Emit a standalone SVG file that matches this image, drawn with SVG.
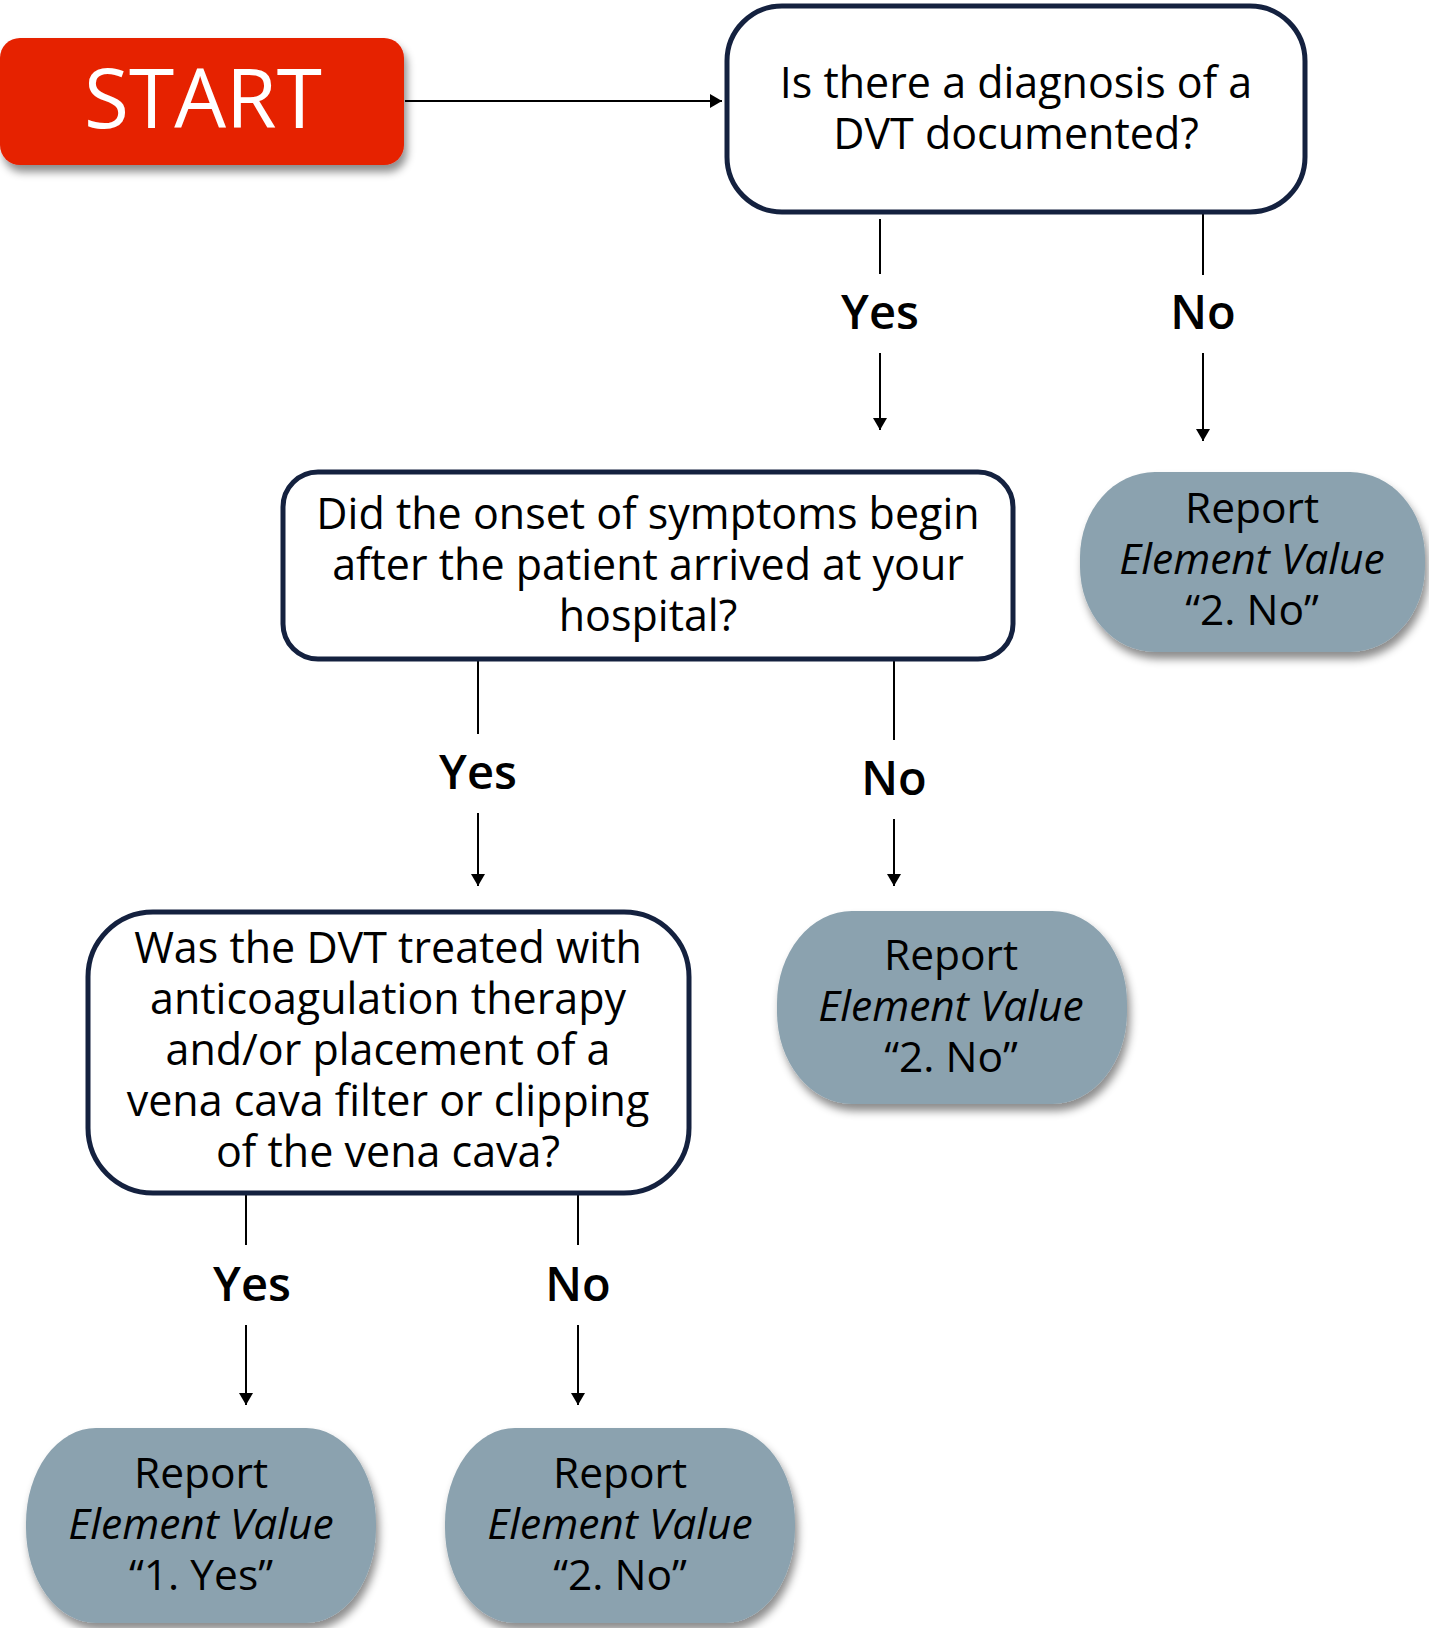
<svg xmlns="http://www.w3.org/2000/svg" width="1429" height="1628" viewBox="0 0 1429 1628">
  <defs>
    <filter id="shadow" x="-10%" y="-10%" width="125%" height="130%">
      <feDropShadow dx="3" dy="7" stdDeviation="4" flood-color="#000" flood-opacity="0.45"/>
    </filter>
    <marker id="arrow" viewBox="0 0 12 14" refX="12" refY="7" markerWidth="12" markerHeight="14" markerUnits="userSpaceOnUse" orient="auto">
      <path d="M0,0 L12,7 L0,14 Z" fill="#000"/>
    </marker>
    <style>
      .q { fill: #fff; stroke: #14213f; stroke-width: 5; }
      .rep { fill: #8ba2af; filter: url(#shadow); }
      .t { font-family: "Open Sans", "Noto Sans", "Liberation Sans", sans-serif; font-size: 43px; fill: #000; text-anchor: middle; }
      .r { font-size: 42.5px; }
      .it { font-style: italic; }
      .lbl { font-family: "Open Sans", "Noto Sans", "Liberation Sans", sans-serif; font-size: 47px; font-weight: 600; fill: #000; text-anchor: middle; }
      .ln { stroke: #000; stroke-width: 2; fill: none; }
      .ar { stroke: #000; stroke-width: 2; fill: none; marker-end: url(#arrow); }
    </style>
  </defs>
  <rect width="1429" height="1628" fill="#fff"/>

  <!-- connectors and branch labels -->
  <g id="connectors">
    <line class="ar" x1="405" y1="101" x2="722" y2="101"/>

    <line class="ln" x1="880" y1="219" x2="880" y2="274"/>
    <text class="lbl" x="880" y="329">Yes</text>
    <line class="ar" x1="880" y1="353" x2="880" y2="430"/>

    <line class="ln" x1="1203" y1="214" x2="1203" y2="275"/>
    <text class="lbl" x="1203" y="329">No</text>
    <line class="ar" x1="1203" y1="353" x2="1203" y2="441"/>

    <line class="ln" x1="478" y1="660" x2="478" y2="734"/>
    <text class="lbl" x="478" y="789">Yes</text>
    <line class="ar" x1="478" y1="813" x2="478" y2="886"/>

    <line class="ln" x1="894" y1="660" x2="894" y2="740"/>
    <text class="lbl" x="894" y="795">No</text>
    <line class="ar" x1="894" y1="819" x2="894" y2="886"/>

    <line class="ln" x1="246" y1="1194" x2="246" y2="1245"/>
    <text class="lbl" x="252" y="1301">Yes</text>
    <line class="ar" x1="246" y1="1325" x2="246" y2="1405"/>

    <line class="ln" x1="578" y1="1194" x2="578" y2="1245"/>
    <text class="lbl" x="578" y="1301">No</text>
    <line class="ar" x1="578" y1="1325" x2="578" y2="1405"/>
  </g>

  <!-- start -->
  <g id="start">
    <rect x="0" y="38" width="404" height="127" rx="20" fill="#e62000" filter="url(#shadow)"/>
    <text x="203" y="128" font-family="'Open Sans', 'Noto Sans', 'Liberation Sans', sans-serif" font-size="82" fill="#fff" text-anchor="middle">START</text>
  </g>

  <!-- decision: DVT documented -->
  <g id="q-dvt">
    <rect class="q" x="727" y="6" width="578" height="206" rx="55"/>
    <text class="t" x="1016" y="98">Is there a diagnosis of a</text>
    <text class="t" x="1016" y="149">DVT documented?</text>
  </g>

  <!-- decision: onset after arrival -->
  <g id="q-onset">
    <rect class="q" x="283" y="472" width="730" height="187" rx="35"/>
    <text class="t" x="648" y="529">Did the onset of symptoms begin</text>
    <text class="t" x="648" y="580">after the patient arrived at your</text>
    <text class="t" x="648" y="631">hospital?</text>
  </g>

  <!-- decision: treatment -->
  <g id="q-treated">
    <rect class="q" x="88" y="912" width="601" height="281" rx="65"/>
    <text class="t" x="388" y="963">Was the DVT treated with</text>
    <text class="t" x="388" y="1014">anticoagulation therapy</text>
    <text class="t" x="388" y="1065">and/or placement of a</text>
    <text class="t" x="388" y="1116">vena cava filter or clipping</text>
    <text class="t" x="388" y="1167">of the vena cava?</text>
  </g>

  <!-- outcome: top right -->
  <g id="r-no-1">
    <rect class="rep" x="1080" y="472" width="345" height="180" rx="75" ry="85"/>
    <text class="t r" x="1252" y="523">Report</text>
    <text class="t r it" x="1252" y="574">Element Value</text>
    <text class="t r" x="1252" y="625">“2. No”</text>
  </g>

  <!-- outcome: middle -->
  <g id="r-no-2">
    <rect class="rep" x="777" y="911" width="350" height="193" rx="75" ry="92"/>
    <text class="t r" x="951" y="970">Report</text>
    <text class="t r it" x="951" y="1021">Element Value</text>
    <text class="t r" x="951" y="1072">“2. No”</text>
  </g>

  <!-- outcome: bottom left -->
  <g id="r-yes">
    <rect class="rep" x="26" y="1428" width="350" height="195" rx="70" ry="95"/>
    <text class="t r" x="201" y="1488">Report</text>
    <text class="t r it" x="201" y="1539">Element Value</text>
    <text class="t r" x="201" y="1590">“1. Yes”</text>
  </g>

  <!-- outcome: bottom right -->
  <g id="r-no-3">
    <rect class="rep" x="445" y="1428" width="350" height="195" rx="70" ry="95"/>
    <text class="t r" x="620" y="1488">Report</text>
    <text class="t r it" x="620" y="1539">Element Value</text>
    <text class="t r" x="620" y="1590">“2. No”</text>
  </g>
</svg>
